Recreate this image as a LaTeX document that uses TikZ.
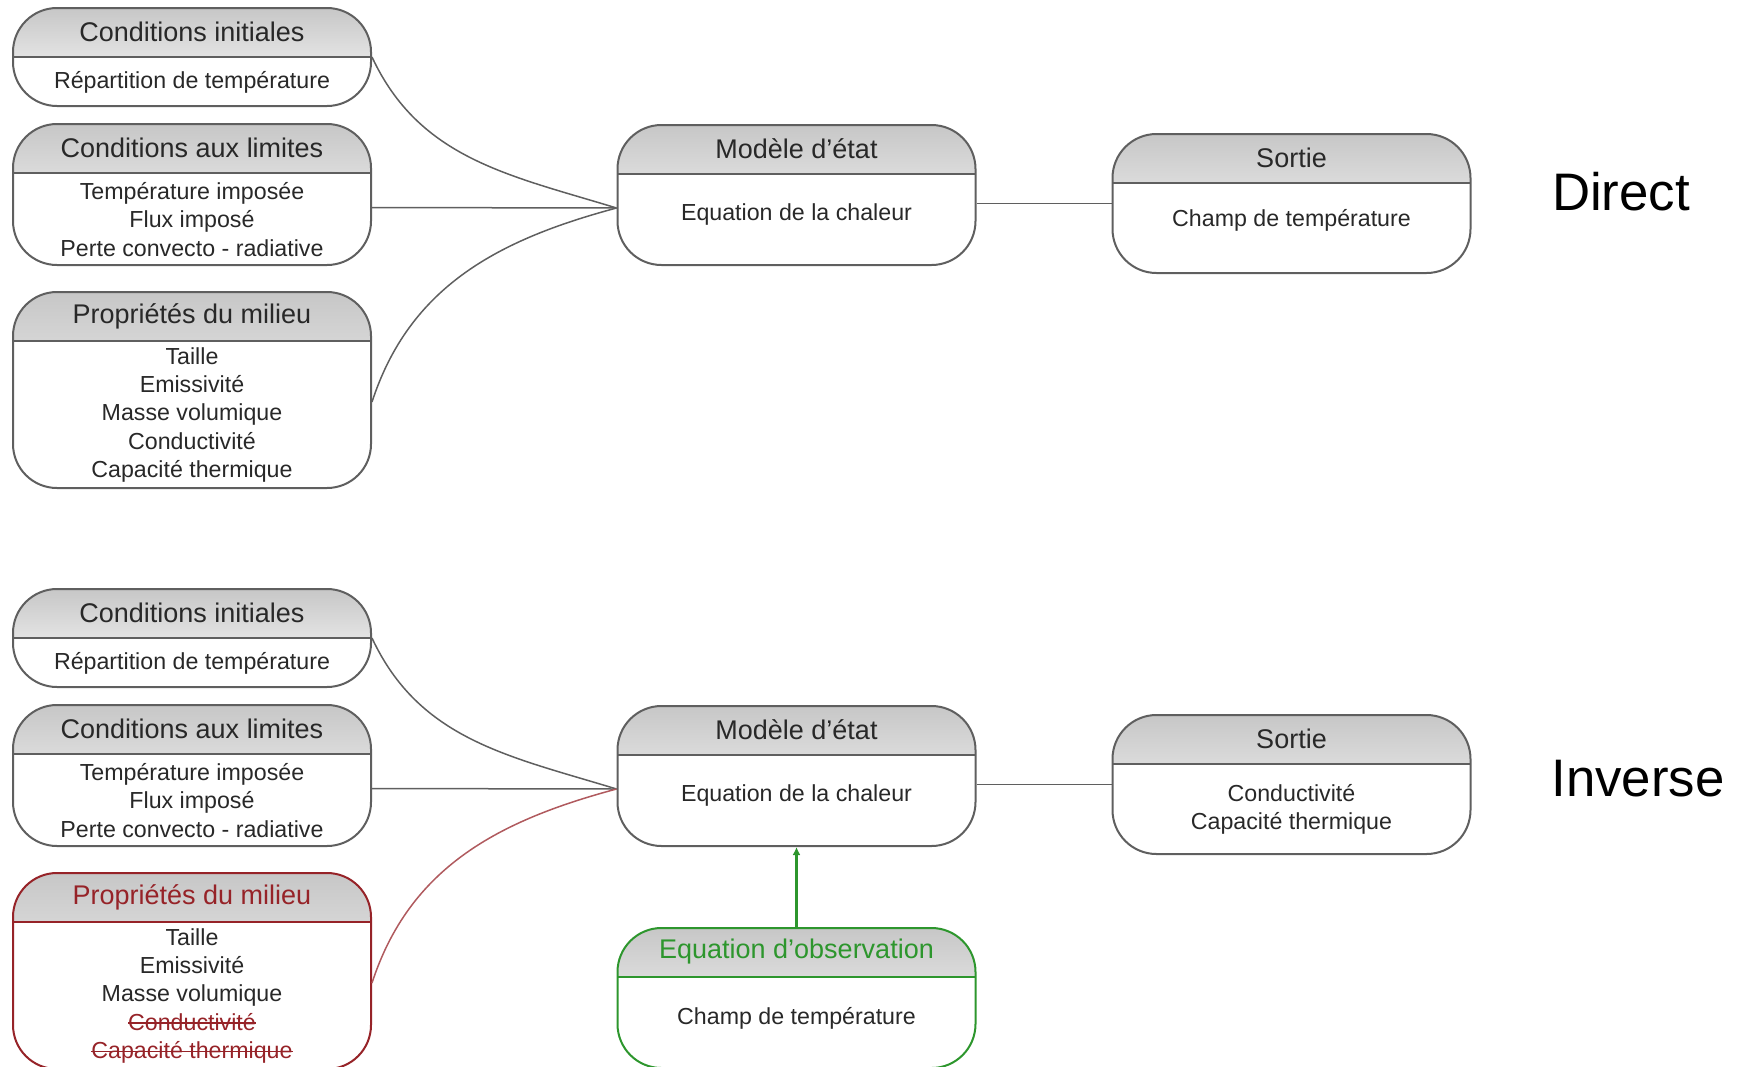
\documentclass[tikz,border=0pt]{standalone}
\usepackage{fontspec}
\setmainfont{Liberation Sans}
\usetikzlibrary{positioning, arrows.meta, calc}

\definecolor{linegray}{RGB}{95,95,95}
\definecolor{textgray}{RGB}{40,40,40}
\definecolor{propred}{RGB}{150,35,40}
\definecolor{obsgreen}{RGB}{45,150,45}

% struck-out text
\newcommand\barredtext[1]{\setbox0\hbox{#1}\rlap{\rule[0.28em]{\wd0}{0.07em}}\box0}

\begin{document}
\begin{tikzpicture}[
    box/.style={draw=#1, line width=1pt, rounded corners=22pt, minimum width=179pt, inner sep=0pt,
        path picture={
            \shade[sharp corners, top color=black!22, bottom color=white] (path picture bounding box.north west) rectangle ([yshift=-24.5pt]path picture bounding box.north east);
            \draw[#1, line width=1pt] ([yshift=-24.5pt]path picture bounding box.north west) -- ([yshift=-24.5pt]path picture bounding box.north east);
        }},
    box/.default=linegray,
    head/.style={minimum height=24.5pt, inner sep=0pt, text=textgray, font=\fontsize{13.5}{16}\selectfont},
    body/.style={align=center, inner sep=0pt, text=textgray, font=\fontsize{11.6}{14.2}\selectfont},
    casetext/.style={inner sep=0pt, font=\fontsize{26.4}{30}\selectfont},
    link/.style={draw=linegray, line width=0.75pt},
    arrow/.style={-{Latex[length=4pt,width=4pt]}, draw=obsgreen, line width=1.2pt}
]
\useasboundingbox (0,0) rectangle (870pt,-533pt);

% Direct problem
\node[box, minimum height=49pt] (ci1) at (96pt,-28.5pt) {};
\node[head, below=0pt of ci1.north] (ci1t) {Conditions initiales};
\node[body] (ci1b) at ($(ci1t.south)!0.5!(ci1.south)$) {Répartition de température};

\node[box, minimum height=70.5pt] (cl1) at (96pt,-97.25pt) {};
\node[head, below=0pt of cl1.north] (cl1t) {Conditions aux limites};
\node[body] (cl1b) at ($(cl1t.south)!0.5!(cl1.south)$) {Température imposée\\Flux imposé\\Perte convecto - radiative};

\node[box, minimum height=98pt] (pm1) at (96pt,-195pt) {};
\node[head, below=0pt of pm1.north] (pm1t) {Propriétés du milieu};
\node[body] (pm1b) at ($(pm1t.south)!0.5!(pm1.south)$) {Taille\\Emissivité\\Masse volumique\\Conductivité\\Capacité thermique};

\node[box, minimum height=70pt] (mod1) at (398.25pt,-97.5pt) {};
\node[head, below=0pt of mod1.north] (mod1t) {Modèle d’état};
\node[body, yshift=2.5pt] (mod1b) at ($(mod1t.south)!0.5!(mod1.south)$) {Equation de la chaleur};

\node[box, minimum height=69.5pt] (out1) at (645.75pt,-101.75pt) {};
\node[head, below=0pt of out1.north] (out1t) {Sortie};
\node[body, yshift=4pt] (out1b) at ($(out1t.south)!0.5!(out1.south)$) {Champ de température};

\node[casetext] (direct) at (810.5pt,-96pt) {Direct};

% Inverse problem
\node[box, minimum height=49pt] (ci2) at (96pt,-319pt) {};
\node[head, below=0pt of ci2.north] (ci2t) {Conditions initiales};
\node[body] (ci2b) at ($(ci2t.south)!0.5!(ci2.south)$) {Répartition de température};

\node[box, minimum height=70.5pt] (cl2) at (96pt,-387.75pt) {};
\node[head, below=0pt of cl2.north] (cl2t) {Conditions aux limites};
\node[body] (cl2b) at ($(cl2t.south)!0.5!(cl2.south)$) {Température imposée\\Flux imposé\\Perte convecto - radiative};

\node[box=propred, minimum height=98pt] (pm2) at (96pt,-485.5pt) {};
\node[head, text=propred, below=0pt of pm2.north] (pm2t) {Propriétés du milieu};
\node[body] (pm2b) at ($(pm2t.south)!0.5!(pm2.south)$) {Taille\\Emissivité\\Masse volumique\\{\color{propred}\barredtext{Conductivité}}\\{\color{propred}\barredtext{Capacité thermique}}};

\node[box, minimum height=70pt] (mod2) at (398.25pt,-388pt) {};
\node[head, below=0pt of mod2.north] (mod2t) {Modèle d’état};
\node[body, yshift=2.5pt] (mod2b) at ($(mod2t.south)!0.5!(mod2.south)$) {Equation de la chaleur};

\node[box, minimum height=69.5pt] (out2) at (645.75pt,-392.25pt) {};
\node[head, below=0pt of out2.north] (out2t) {Sortie};
\node[body] (out2b) at ($(out2t.south)!0.5!(out2.south)$) {Conductivité\\Capacité thermique};

\node[box=obsgreen, minimum height=70pt] (obs) at (398.25pt,-499pt) {};
\node[head, text=obsgreen, below=0pt of obs.north] (obst) {Equation d’observation};
\node[body, yshift=2.5pt] (obsb) at ($(obst.south)!0.5!(obs.south)$) {Champ de température};

\node[casetext] (inverse) at (819pt,-389.5pt) {Inverse};

% Connections
\coordinate (mod1in) at ([yshift=-6.5pt]mod1.west);
\draw[link] (ci1.east) to[out=-65, in=163] (mod1in);
\draw[link] ([yshift=-6.5pt]cl1.east) -- (mod1in);
\draw[link] ([yshift=-6pt]pm1.east) to[out=72, in=-165] (mod1in);
\draw[link] (mod1.east |- out1.west) -- (out1.west);

\coordinate (mod2in) at ([yshift=-6.5pt]mod2.west);
\draw[link] (ci2.east) to[out=-65, in=163] (mod2in);
\draw[link] ([yshift=-6.5pt]cl2.east) -- (mod2in);
\draw[link, draw=propred!75] ([yshift=-6pt]pm2.east) to[out=72, in=-165] (mod2in);
\draw[link] (mod2.east |- out2.west) -- (out2.west);
\draw[arrow] (obs.north) -- (mod2.south);

\end{tikzpicture}
\end{document}
